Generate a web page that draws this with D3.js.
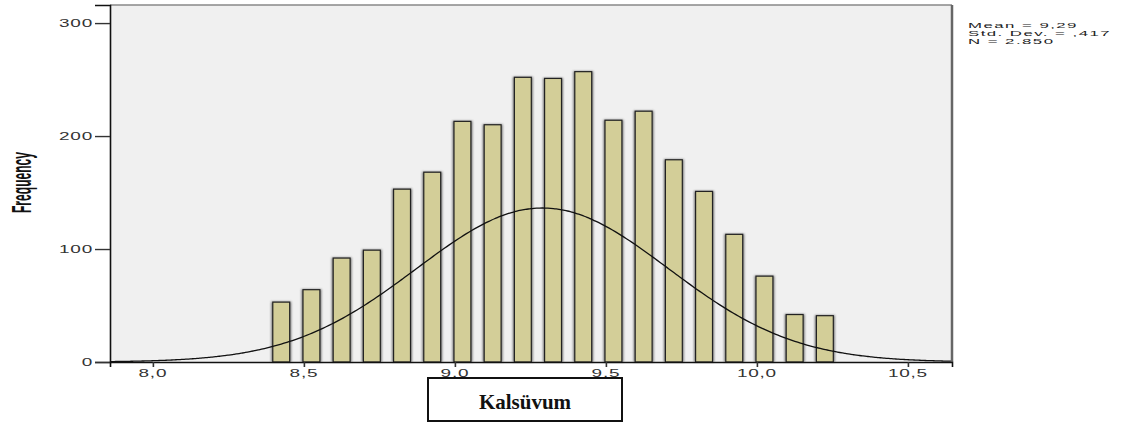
<!DOCTYPE html>
<html>
<head>
<meta charset="utf-8">
<script src="https://cdn.jsdelivr.net/npm/d3@7"></script>
<style>
  html, body { margin: 0; padding: 0; background: #ffffff; }
  svg { display: block; }
</style>
</head>
<body>
<svg id="chart" width="1142" height="426"></svg>
<script>
// ---- data ----
const binCenters = [8.425, 8.525, 8.625, 8.725, 8.825, 8.925, 9.025, 9.125, 9.225, 9.325,
                    9.425, 9.525, 9.625, 9.725, 9.825, 9.925, 10.025, 10.125, 10.225];
const frequencies = [53, 64, 92, 99, 153, 168, 213, 210, 252, 251,
                     257, 214, 222, 179, 151, 113, 76, 42, 41];
const yTicks = [0, 100, 200, 300];
const xTicks = [8.0, 8.5, 9.0, 9.5, 10.0, 10.5];
const xTickLabels = ["8,0", "8,5", "9,0", "9,5", "10,0", "10,5"];
const statLines = ["Mean = 9,29", "Std. Dev. = ,417", "N = 2.850"];
const meanValue = 9.29;
const sdValue = 0.417;
const nValue = 2850;
const curveBinWidth = 0.05;
const xTitle = "Kalsüvum";
const yTitle = "Frequency";

// ---- layout ----
const plotL = 110, plotR = 952, plotT = 5, plotB = 362;
const svg = d3.select("#chart");

const x = d3.scaleLinear().domain([7.858, 10.646]).range([plotL, plotR]);
const y = d3.scaleLinear().domain([0, 316]).range([plotB, plotT]);

// filter for bar shadow
const defs = svg.append("defs");
const f = defs.append("filter").attr("id", "shadow").attr("x", "-50%").attr("y", "-10%")
  .attr("width", "200%").attr("height", "120%");
f.append("feGaussianBlur").attr("stdDeviation", 1.1);

// plot background
svg.append("rect").attr("x", plotL).attr("y", plotT)
  .attr("width", plotR - plotL).attr("height", plotB - plotT).attr("fill", "#f0f0f0");

// bars
const barW = 0.056;
const bars = svg.append("g");
binCenters.forEach((c, i) => {
  const x0 = x(c - barW / 2), x1 = x(c + barW / 2);
  const yt = y(frequencies[i]);
  bars.append("rect")
    .attr("x", x0 - 1.5).attr("y", yt - 0.5)
    .attr("width", x1 - x0 + 3).attr("height", plotB - yt + 0.5)
    .attr("fill", "#555").attr("opacity", 0.8).attr("filter", "url(#shadow)");
  bars.append("rect")
    .attr("x", x0).attr("y", yt)
    .attr("width", x1 - x0).attr("height", plotB - yt)
    .attr("fill", "#d3ce98").attr("stroke", "#222").attr("stroke-width", 1.2);
});

// normal curve
const k = nValue * curveBinWidth / (sdValue * Math.sqrt(2 * Math.PI));
const curveX = d3.range(0, 301).map(i => x.domain()[0] + (x.domain()[1] - x.domain()[0]) * i / 300);
const line = d3.line()
  .x(d => x(d))
  .y(d => y(k * Math.exp(-((d - meanValue) ** 2) / (2 * sdValue * sdValue))))
  .curve(d3.curveBasis);
svg.append("path").datum(curveX).attr("d", line)
  .attr("fill", "none").attr("stroke", "#111").attr("stroke-width", 1.3);

// frame
svg.append("line").attr("x1", plotL).attr("x2", plotR).attr("y1", plotT).attr("y2", plotT)
  .attr("stroke", "#888").attr("stroke-width", 1.5);
svg.append("line").attr("x1", plotR).attr("x2", plotR).attr("y1", plotT).attr("y2", plotB)
  .attr("stroke", "#666").attr("stroke-width", 2.5);

// helper for horizontally stretched text
function stretchedText(g, tx, ty, str, opts) {
  const t = g.append("text")
    .attr("transform", `translate(${tx},${ty}) scale(${opts.sx},1)`)
    .attr("text-anchor", opts.anchor || "start")
    .attr("font-family", "Liberation Sans, Arial, sans-serif")
    .attr("font-size", opts.size)
    .attr("letter-spacing", opts.ls || 0)
    .attr("fill", opts.fill || "#333")
    .text(str);
  return t;
}

// y axis
const yAxis = d3.axisLeft(y).tickValues(yTicks).tickSize(15).tickFormat("");
const yg = svg.append("g").attr("transform", `translate(${plotL},0)`).call(yAxis);
yg.select(".domain").attr("stroke", "#111").attr("stroke-width", 1.6);
yg.selectAll(".tick line").attr("stroke", "#333").attr("stroke-width", 1.4);
yTicks.forEach(v => {
  stretchedText(svg, plotL - 17, y(v) + 3.6, String(v), {sx: 1.9, size: 10, anchor: "end", ls: 0.4});
});

// x axis
const xAxis = d3.axisBottom(x).tickValues(xTicks).tickSize(5).tickFormat("");
const xg = svg.append("g").attr("transform", `translate(0,${plotB})`).call(xAxis);
xg.select(".domain").attr("stroke", "#111").attr("stroke-width", 1.6);
xg.selectAll(".tick line").attr("stroke", "#333").attr("stroke-width", 1.6);
xTicks.forEach((v, i) => {
  stretchedText(svg, x(v), 377, xTickLabels[i], {sx: 1.9, size: 10, anchor: "middle", ls: 0.4});
});

// stats
statLines.forEach((s, i) => {
  stretchedText(svg, 968, 28 + i * 8, s, {sx: 2.1, size: 8, anchor: "start", ls: 0.7, fill: "#222"});
});

// y title (compressed bold)
svg.append("text")
  .attr("transform", `translate(31,182.5) rotate(-90)`)
  .attr("text-anchor", "middle")
  .attr("font-family", "Liberation Sans Narrow, Arial Narrow, Liberation Sans, sans-serif")
  .attr("font-weight", "bold")
  .attr("font-size", 28)
  .attr("textLength", 61)
  .attr("lengthAdjust", "spacingAndGlyphs")
  .attr("fill", "#111")
  .text(yTitle);

// x title box
svg.append("rect").attr("x", 428).attr("y", 378).attr("width", 194).attr("height", 43)
  .attr("fill", "#fff").attr("stroke", "#111").attr("stroke-width", 2);
svg.append("text")
  .attr("x", 525).attr("y", 409)
  .attr("text-anchor", "middle")
  .attr("font-family", "Liberation Serif, Times New Roman, serif")
  .attr("font-weight", "bold")
  .attr("font-size", 21)
  .attr("fill", "#111")
  .text(xTitle);
</script>
</body>
</html>
